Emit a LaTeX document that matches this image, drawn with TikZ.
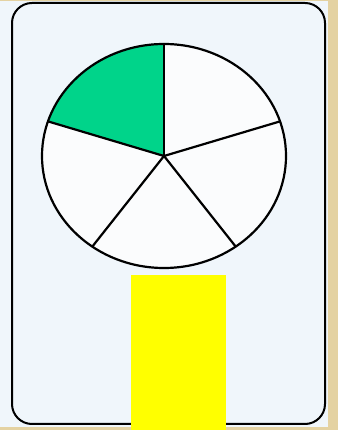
\documentclass[tikz,border=0pt]{standalone}
\definecolor{sand}{RGB}{228,210,162}
\definecolor{cardblue}{RGB}{240,246,251}
\definecolor{pale}{RGB}{251,252,253}
\definecolor{spingreen}{RGB}{0,212,138}
\definecolor{stand}{RGB}{255,255,0}
\begin{document}
\begin{tikzpicture}[x=1pt,y=1pt, line join=round, line cap=round]
        \def\rx{122} \def\ry{112}
        \fill[cardblue] (0,0) rectangle (338,430);
        \useasboundingbox (0,0) rectangle (338,430);
        % sand edges
        \fill[sand] (328,0) rectangle (338,430);
        \fill[sand] (0,428.5) rectangle (338,430);
        \fill[sand] (0,0) rectangle (338,2.5);
        % card
        \draw[line width=2pt, rounded corners=20pt, fill=cardblue] (12,6) rectangle (325,427);
        % spinner
        \coordinate (o) at (164,274);
        \fill[pale] (o) ellipse [x radius=\rx, y radius=\ry];
        \fill[spingreen] (o) -- ++(90:122 and 112) arc [start angle=90, end angle=162, x radius=\rx, y radius=\ry] -- cycle;
        \draw[line width=2.2pt] (o) ellipse [x radius=\rx, y radius=\ry];
        \foreach \a in {18,90,162,234,306}
            \draw[line width=2.2pt] (o) -- ++(\a:122 and 112);
        % stand
        \fill[stand] (131,0) rectangle (226,155);
\end{tikzpicture}
\end{document}
